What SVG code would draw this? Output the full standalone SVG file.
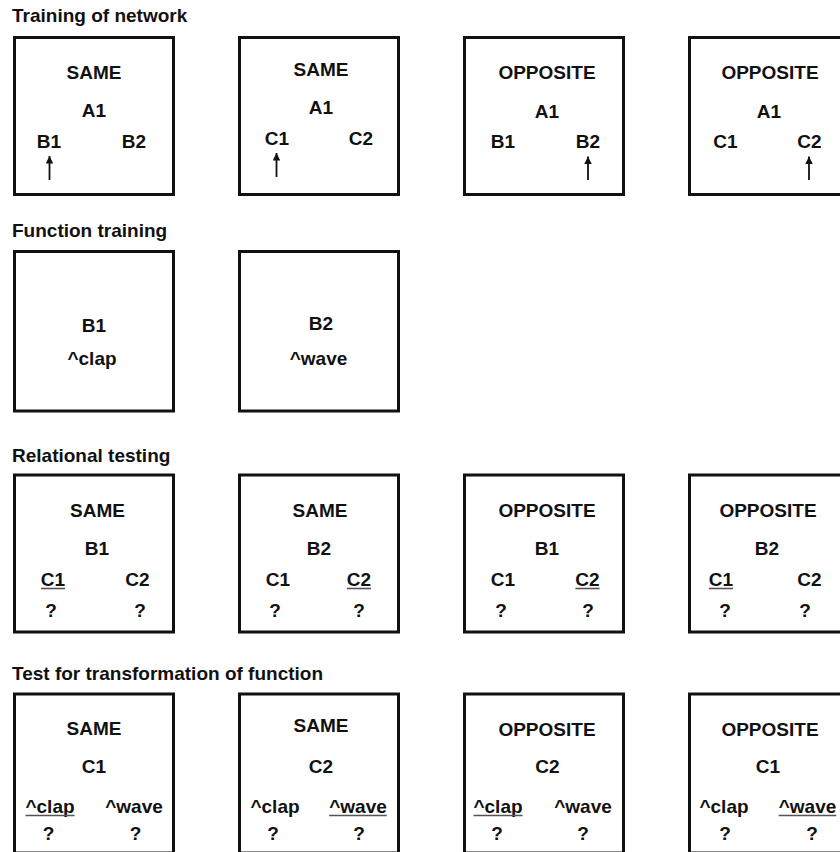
<svg xmlns="http://www.w3.org/2000/svg" width="840" height="852" viewBox="0 0 840 852">
<defs>
<style>
.box{fill:#fff;stroke:#111;stroke-width:3}
.t{font-family:"Liberation Sans",Arial,Helvetica,sans-serif;font-weight:bold;font-size:19px;fill:#111;text-anchor:middle}
.h{font-family:"Liberation Sans",Arial,Helvetica,sans-serif;font-weight:bold;font-size:19px;fill:#111;text-anchor:start}
.ul{stroke:#555;stroke-width:1.6}
.ar{stroke:#111;stroke-width:1.8;fill:none;marker-end:url(#ah)}
</style>
<marker id="ah" viewBox="0 0 10 10" refX="10" refY="5" markerWidth="9" markerHeight="7.5" orient="auto" markerUnits="userSpaceOnUse"><path d="M0,0 L10,5 L0,10 z" fill="#111"/></marker>
</defs>
<rect width="840" height="852" fill="#fff"/>

<g id="titles">
<text class="h" x="12" y="22">Training of network</text>
<text class="h" x="12" y="237">Function training</text>
<text class="h" x="12" y="462">Relational testing</text>
<text class="h" x="12" y="680">Test for transformation of function</text>
</g>

<!-- Row 1 -->
<g id="r1b1">
<rect class="box" x="14.5" y="37.5" width="159" height="157"/>
<text class="t" x="94" y="79">SAME</text>
<text class="t" x="94" y="117">A1</text>
<text class="t" x="49" y="147.5">B1</text>
<text class="t" x="134" y="147.5">B2</text>
</g>
<g id="r1b2">
<rect class="box" x="239.5" y="37.5" width="159" height="157"/>
<text class="t" x="321" y="76">SAME</text>
<text class="t" x="321" y="114">A1</text>
<text class="t" x="277" y="145">C1</text>
<text class="t" x="361" y="145">C2</text>
</g>
<g id="r1b3">
<rect class="box" x="464.5" y="37.5" width="159" height="157"/>
<text class="t" x="547" y="79">OPPOSITE</text>
<text class="t" x="547" y="118">A1</text>
<text class="t" x="503" y="147.5">B1</text>
<text class="t" x="588" y="147.5">B2</text>
</g>
<g id="r1b4">
<rect class="box" x="689.5" y="37.5" width="159" height="157"/>
<text class="t" x="770" y="79">OPPOSITE</text>
<text class="t" x="769" y="118">A1</text>
<text class="t" x="725.5" y="147.5">C1</text>
<text class="t" x="809.5" y="147.5">C2</text>
</g>

<!-- Row 2 -->
<g id="r2b1">
<rect class="box" x="14.5" y="251.5" width="159" height="159.5"/>
<text class="t" x="94" y="331.5">B1</text>
<text class="t" x="92" y="365">^clap</text>
</g>
<g id="r2b2">
<rect class="box" x="239.5" y="251.5" width="159" height="159.5"/>
<text class="t" x="321" y="329.5">B2</text>
<text class="t" x="318.5" y="365">^wave</text>
</g>

<!-- Row 3 -->
<g id="r3b1">
<rect class="box" x="14.5" y="475" width="159" height="157"/>
<text class="t" x="97.5" y="517">SAME</text>
<text class="t" x="97" y="555">B1</text>
<text class="t" x="53" y="586">C1</text>
<line class="ul" x1="40.9" y1="588.5" x2="65.1" y2="588.5"/>
<text class="t" x="137.5" y="586">C2</text>
<text class="t" x="51" y="617">?</text>
<text class="t" x="140" y="617">?</text>
</g>
<g id="r3b2">
<rect class="box" x="239.5" y="475" width="159" height="157"/>
<text class="t" x="320" y="517">SAME</text>
<text class="t" x="319" y="555">B2</text>
<text class="t" x="278" y="586">C1</text>
<text class="t" x="359" y="586">C2</text>
<line class="ul" x1="346.9" y1="588.5" x2="371.1" y2="588.5"/>
<text class="t" x="275" y="617">?</text>
<text class="t" x="359" y="617">?</text>
</g>
<g id="r3b3">
<rect class="box" x="464.5" y="475" width="159" height="157"/>
<text class="t" x="547" y="517">OPPOSITE</text>
<text class="t" x="547" y="555">B1</text>
<text class="t" x="503" y="586">C1</text>
<text class="t" x="587.5" y="586">C2</text>
<line class="ul" x1="575.4" y1="588.5" x2="599.6" y2="588.5"/>
<text class="t" x="501" y="617">?</text>
<text class="t" x="588" y="617">?</text>
</g>
<g id="r3b4">
<rect class="box" x="689.5" y="475" width="159" height="157"/>
<text class="t" x="768" y="517">OPPOSITE</text>
<text class="t" x="767" y="555">B2</text>
<text class="t" x="721" y="586">C1</text>
<line class="ul" x1="708.9" y1="588.5" x2="733.1" y2="588.5"/>
<text class="t" x="809.5" y="586">C2</text>
<text class="t" x="725" y="617">?</text>
<text class="t" x="805" y="617">?</text>
</g>

<!-- Row 4 -->
<g id="r4b1">
<rect class="box" x="14.5" y="694" width="159" height="159"/>
<text class="t" x="94" y="735">SAME</text>
<text class="t" x="94" y="773">C1</text>
<text class="t" x="50" y="813">^clap</text>
<line class="ul" x1="25.5" y1="815.5" x2="74.5" y2="815.5"/>
<text class="t" x="134" y="813">^wave</text>
<text class="t" x="48.5" y="840">?</text>
<text class="t" x="135.5" y="840">?</text>
</g>
<g id="r4b2">
<rect class="box" x="239.5" y="694" width="159" height="159"/>
<text class="t" x="321" y="732">SAME</text>
<text class="t" x="321" y="773">C2</text>
<text class="t" x="275" y="813">^clap</text>
<text class="t" x="358" y="813">^wave</text>
<line class="ul" x1="329.2" y1="815.5" x2="386.8" y2="815.5"/>
<text class="t" x="273" y="840">?</text>
<text class="t" x="359" y="840">?</text>
</g>
<g id="r4b3">
<rect class="box" x="464.5" y="694" width="159" height="159"/>
<text class="t" x="547" y="735.5">OPPOSITE</text>
<text class="t" x="547.5" y="773">C2</text>
<text class="t" x="498" y="813">^clap</text>
<line class="ul" x1="473.5" y1="815.5" x2="522.5" y2="815.5"/>
<text class="t" x="583" y="813">^wave</text>
<text class="t" x="497" y="840">?</text>
<text class="t" x="583" y="840">?</text>
</g>
<g id="r4b4">
<rect class="box" x="689.5" y="694" width="159" height="159"/>
<text class="t" x="770" y="735.5">OPPOSITE</text>
<text class="t" x="768" y="773">C1</text>
<text class="t" x="724" y="813">^clap</text>
<text class="t" x="807.5" y="813">^wave</text>
<line class="ul" x1="778.7" y1="815.5" x2="836.3" y2="815.5"/>
<text class="t" x="725" y="840">?</text>
<text class="t" x="812" y="840">?</text>
</g>

<g id="connectors">
<path class="ar" d="M49.5,180 V156"/>
<path class="ar" d="M276.5,177 V153"/>
<path class="ar" d="M588,180 V156.5"/>
<path class="ar" d="M809,180 V156.5"/>
</g>
</svg>
